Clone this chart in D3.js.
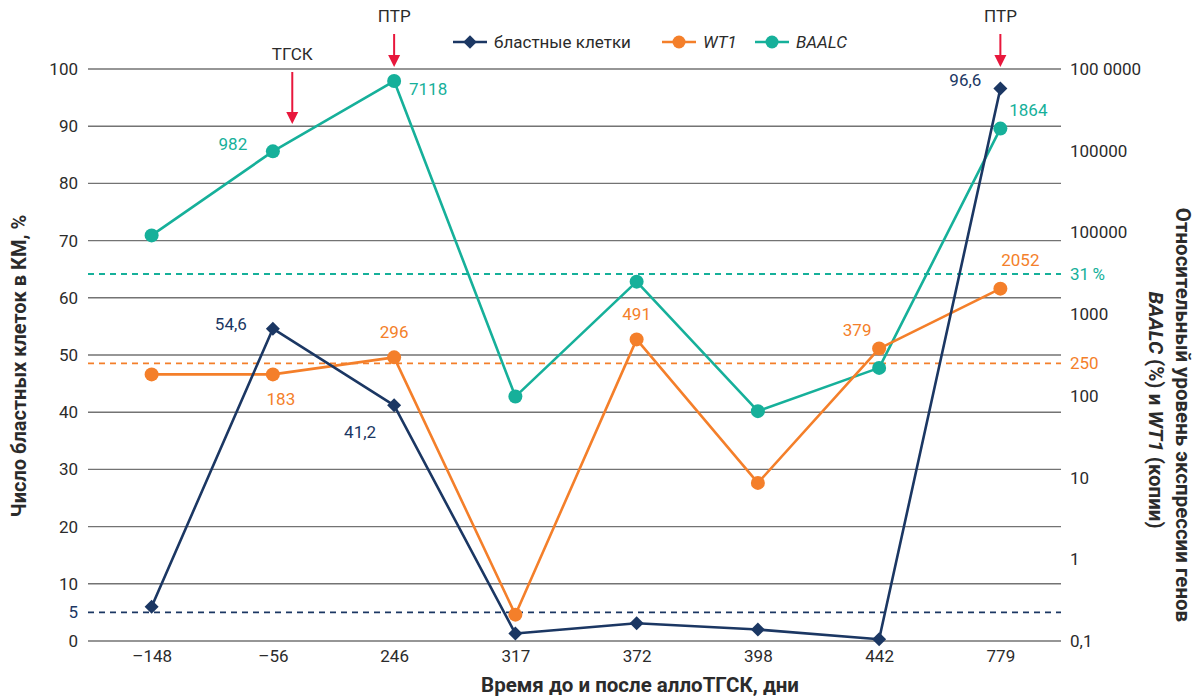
<!DOCTYPE html>
<html>
<head>
<meta charset="utf-8">
<script src="https://cdn.jsdelivr.net/npm/d3@7"></script>
<style>
  html, body { margin: 0; padding: 0; background: #fff; }
  svg { display: block; font-family: Roboto, "Noto Sans", sans-serif; }
</style>
</head>
<body>
<svg id="chart" width="1196" height="699"></svg>
<script>
// Days before / after allo-HSCT
const days = ["\u2013148", "\u201356", "246", "317", "372", "398", "442", "779"];

// Blast cells in bone marrow, %
const blasts = [6.0, 54.6, 41.2, 1.3, 3.1, 2.0, 0.3, 96.6];
// WT1 expression, copies
const wt1 = [183, 183, 296, 0.21, 491, 8.6, 379, 2052];
// BAALC expression, %
const baalc = [92, 982, 7118, 0.98, 25, 0.65, 2.2, 1864];

// Value labels per series (null = no label)
const blastLabels = [null, "54,6", "41,2", null, null, null, null, "96,6"];
const wt1Labels = [null, "183", "296", null, "491", null, "379", "2052"];
const baalcLabels = [null, "982", "7118", null, null, null, null, "1864"];

// Thresholds
const blastThreshold = 5;
const wt1Threshold = 250;
const baalcThreshold = 31;

// Left axis ticks
const leftTicks = [0, 10, 20, 30, 40, 50, 60, 70, 80, 90, 100];
// Right axis (log) tick values and their printed labels
const rightTickValues = [1e6, 1e5, 1e4, 1e3, 100, 10, 1, 0.1];
const rightTickLabels = ["100 0000", "100000", "100000", "1000", "100", "10", "1", "0,1"];

// Event markers above the chart
const events = [
  { day: "\u201356", text: "\u0422\u0413\u0421\u041a", shift: 0.16, level: 1 },
  { day: "246", text: "\u041f\u0422\u0420", shift: 0, level: 0 },
  { day: "779", text: "\u041f\u0422\u0420", shift: 0, level: 0 }
];

const colors = { blast: "#1b3763", wt1: "#f47f2a", baalc: "#16b09a", grid: "#737373", text: "#2b2b2b", arrow: "#e8173c" };

const svg = d3.select("#chart");
const plot = { left: 88, right: 1061, top: 69, bottom: 641 };
const FS = 17;

const x = d3.scalePoint().domain(days).range([91, 1061]).padding(0.5);
const yLeft = d3.scaleLinear().domain([0, 100]).range([plot.bottom, plot.top]);
const yRight = d3.scaleLog().domain([0.1, 1e6]).range([plot.bottom, plot.top]);
// BAALC (%) shares the log axis, offset by two decades
const yBaalc = d3.scaleLog().domain([0.001, 1e4]).range([plot.bottom, plot.top]);

// Gridlines
svg.append("g")
  .selectAll("line").data(leftTicks).join("line")
  .attr("x1", plot.left).attr("x2", plot.right)
  .attr("y1", d => yLeft(d)).attr("y2", d => yLeft(d))
  .attr("stroke", colors.grid).attr("stroke-width", 1.4);

// Left axis labels
const leftAxis = d3.axisLeft(yLeft).tickValues(leftTicks).tickSize(0).tickPadding(0);
const gL = svg.append("g").attr("transform", `translate(${plot.left - 10},0)`).call(leftAxis);
gL.select(".domain").remove();
gL.selectAll("text").attr("font-size", FS).attr("fill", colors.text).attr("font-family", "Roboto");
svg.append("text").attr("x", plot.left - 10).attr("y", yLeft(blastThreshold)).attr("dy", "0.35em")
  .attr("text-anchor", "end").attr("font-size", FS).attr("fill", colors.blast).text(blastThreshold);

// Right axis labels
const rightAxis = d3.axisRight(yRight).tickValues(rightTickValues).tickSize(0).tickPadding(0)
  .tickFormat((d, i) => rightTickLabels[i]);
const gR = svg.append("g").attr("transform", `translate(${plot.right + 9},0)`).call(rightAxis);
gR.select(".domain").remove();
gR.selectAll("text").attr("font-size", FS).attr("fill", colors.text).attr("font-family", "Roboto");

// X axis labels
const xAxis = d3.axisBottom(x).tickSize(0).tickPadding(0);
const gX = svg.append("g").attr("transform", `translate(0,${plot.bottom + 8})`).call(xAxis);
gX.select(".domain").remove();
gX.selectAll("text").attr("font-size", FS).attr("fill", colors.text).attr("font-family", "Roboto").attr("dy", "0.75em");

// Threshold lines
const thresholds = [
  { y: yRight(wt1Threshold), color: colors.wt1, label: String(wt1Threshold) },
  { y: yBaalc(baalcThreshold), color: colors.baalc, label: baalcThreshold + "\u2009%" },
  { y: yLeft(blastThreshold), color: colors.blast, label: null }
];
thresholds.forEach(t => {
  svg.append("line").attr("x1", plot.left).attr("x2", plot.right).attr("y1", t.y).attr("y2", t.y)
    .attr("stroke", t.color).attr("stroke-width", 1.8).attr("stroke-dasharray", "6,5");
  if (t.label) {
    svg.append("text").attr("x", plot.right + 9).attr("y", t.y).attr("dy", "0.35em")
      .attr("font-size", FS).attr("fill", t.color).text(t.label);
  }
});

// Series
const series = [
  { key: "baalc", values: baalc, y: yBaalc, color: colors.baalc, shape: "circle", labels: baalcLabels },
  { key: "wt1", values: wt1, y: yRight, color: colors.wt1, shape: "circle", labels: wt1Labels },
  { key: "blast", values: blasts, y: yLeft, color: colors.blast, shape: "diamond", labels: blastLabels }
];

const line = (s) => d3.line().x((d, i) => x(days[i])).y(d => s.y(d));

series.forEach(s => {
  const g = svg.append("g");
  g.append("path").datum(s.values).attr("d", line(s)).attr("fill", "none")
    .attr("stroke", s.color).attr("stroke-width", 2.6).attr("stroke-linejoin", "round");
  if (s.shape === "circle") {
    g.selectAll("circle").data(s.values).join("circle")
      .attr("cx", (d, i) => x(days[i])).attr("cy", d => s.y(d)).attr("r", 7).attr("fill", s.color);
  } else {
    const sym = d3.symbol().type(d3.symbolDiamond2).size(125);
    g.selectAll("path.m").data(s.values).join("path").attr("class", "m")
      .attr("d", sym).attr("transform", (d, i) => `translate(${x(days[i])},${s.y(d)})`)
      .attr("fill", s.color);
  }
});

// Value labels, placed relative to their points
const labelOffsets = {
  baalc: [null, [-40, -7], [34, 8], null, null, null, null, [28, -19]],
  wt1: [null, [8, 25], [0, -25], null, [0, -25], null, [-22, -19], [20, -29]],
  blast: [null, [-42, -5], [-34, 27], null, null, null, null, [-35, -8]]
};
series.forEach(s => {
  s.labels.forEach((lab, i) => {
    if (!lab) return;
    const off = labelOffsets[s.key][i];
    svg.append("text").attr("x", x(days[i]) + off[0]).attr("y", s.y(s.values[i]) + off[1])
      .attr("dy", "0.35em").attr("text-anchor", "middle").attr("font-size", FS)
      .attr("fill", s.color).text(lab);
  });
});

// Event arrows
const step = x.step();
events.forEach(e => {
  const cx = x(e.day) + e.shift * step;
  const yEnd = e.level === 1 ? 124 : 67;
  const yStart = e.level === 1 ? 72 : 34;
  svg.append("text").attr("x", cx).attr("y", yStart - 12).attr("text-anchor", "middle")
    .attr("font-size", FS).attr("fill", colors.text).text(e.text);
  svg.append("line").attr("x1", cx).attr("x2", cx).attr("y1", yStart).attr("y2", yEnd - 10)
    .attr("stroke", colors.arrow).attr("stroke-width", 2);
  svg.append("path").attr("d", `M${cx - 6},${yEnd - 12}L${cx + 6},${yEnd - 12}L${cx},${yEnd}Z`)
    .attr("fill", colors.arrow);
});

// Legend
const legendItems = [
  { text: "\u0431\u043b\u0430\u0441\u0442\u043d\u044b\u0435 \u043a\u043b\u0435\u0442\u043a\u0438", color: colors.blast, shape: "diamond", italic: false, x: 453 },
  { text: "WT1", color: colors.wt1, shape: "circle", italic: true, x: 662 },
  { text: "BAALC", color: colors.baalc, shape: "circle", italic: true, x: 755 }
];
const ly = 42;
legendItems.forEach(it => {
  const g = svg.append("g");
  g.append("line").attr("x1", it.x).attr("x2", it.x + 34).attr("y1", ly).attr("y2", ly)
    .attr("stroke", it.color).attr("stroke-width", 2.6);
  if (it.shape === "circle") {
    g.append("circle").attr("cx", it.x + 17).attr("cy", ly).attr("r", 6.5).attr("fill", it.color);
  } else {
    g.append("path").attr("d", d3.symbol().type(d3.symbolDiamond2).size(115))
      .attr("transform", `translate(${it.x + 17},${ly})`).attr("fill", it.color);
  }
  g.append("text").attr("x", it.x + 41).attr("y", ly).attr("dy", "0.35em").attr("font-size", FS)
    .attr("font-style", it.italic ? "italic" : "normal").attr("fill", colors.text).text(it.text);
});

// Axis titles
const TFS = 20.5;
svg.append("text").attr("transform", `translate(26,366) rotate(-90)`)
  .attr("text-anchor", "middle").attr("font-size", 20).attr("font-weight", "bold").attr("fill", colors.text)
  .text("\u0427\u0438\u0441\u043b\u043e \u0431\u043b\u0430\u0441\u0442\u043d\u044b\u0445 \u043a\u043b\u0435\u0442\u043e\u043a \u0432 \u041a\u041c, %");

svg.append("text").attr("x", 640).attr("y", 692)
  .attr("text-anchor", "middle").attr("font-size", TFS).attr("font-weight", "bold").attr("fill", colors.text)
  .text("\u0412\u0440\u0435\u043c\u044f \u0434\u043e \u0438 \u043f\u043e\u0441\u043b\u0435 \u0430\u043b\u043b\u043e\u0422\u0413\u0421\u041a, \u0434\u043d\u0438");

const rt = svg.append("g").attr("transform", `translate(1176,415) rotate(90)`);
rt.append("text").attr("x", 0).attr("y", 0).attr("text-anchor", "middle").attr("font-size", TFS)
  .attr("font-weight", "bold").attr("fill", colors.text)
  .text("\u041e\u0442\u043d\u043e\u0441\u0438\u0442\u0435\u043b\u044c\u043d\u044b\u0439 \u0443\u0440\u043e\u0432\u0435\u043d\u044c \u044d\u043a\u0441\u043f\u0440\u0435\u0441\u0441\u0438\u0438 \u0433\u0435\u043d\u043e\u0432");
const t2 = rt.append("text").attr("x", -5).attr("y", 27).attr("text-anchor", "middle").attr("font-size", TFS)
  .attr("font-weight", "bold").attr("fill", colors.text);
t2.append("tspan").attr("font-style", "italic").text("BAALC");
t2.append("tspan").text(" (%) \u0438 ");
t2.append("tspan").attr("font-style", "italic").text("WT1");
t2.append("tspan").text(" (\u043a\u043e\u043f\u0438\u0438)");
</script>
</body>
</html>
